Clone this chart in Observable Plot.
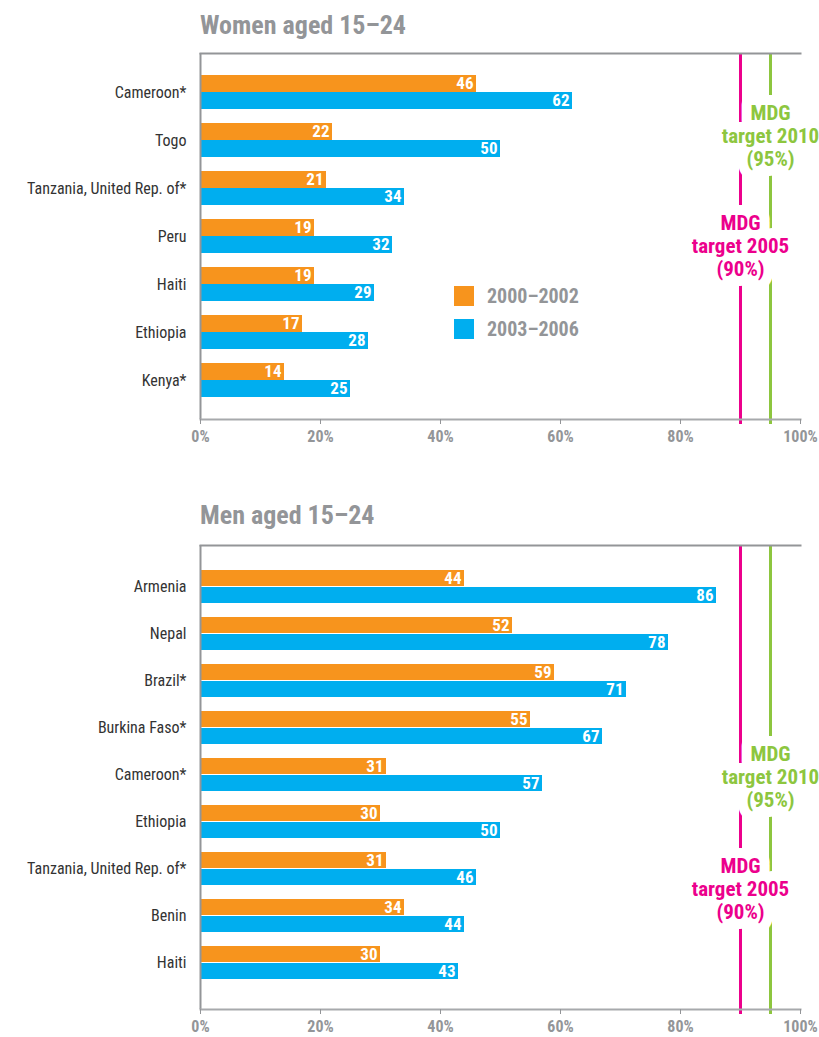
<!DOCTYPE html>
<html>
<head>
<meta charset="utf-8">
<script src="https://cdn.jsdelivr.net/npm/d3@7"></script>
<script src="https://cdn.jsdelivr.net/npm/@observablehq/plot@0.6"></script>
<style>
  html, body { margin: 0; padding: 0; background: #fff; }
  body { width: 819px; height: 1037px; overflow: hidden; }
  #wrap { position: relative; width: 819px; height: 1037px; font-family: "Liberation Sans Narrow", "Roboto Condensed", "DejaVu Sans Condensed", Roboto, sans-serif; }
  .title { position: absolute; left: 200px; font-size: 26px; font-weight: bold; color: #939598; line-height: 26px; white-space: nowrap; z-index: 2; }
  .legend { position: absolute; left: 454px; font-size: 20px; font-weight: bold; color: #939598; z-index: 2; }
  .legend .row { display: flex; align-items: center; height: 20px; margin-bottom: 13px; }
  .legend .sw { width: 20px; height: 20px; margin-right: 13px; }
  #p1, #p2 { position: absolute; left: 0; z-index: 1; }
  #p1 { top: 0; }
  #p2 { top: 460px; }
  svg { overflow: visible; }
</style>
</head>
<body>
<div id="wrap">
  <div id="p1"></div>
  <div id="p2"></div>
  <div class="title" id="t1" style="top:12px">Women aged 15–24</div>
  <div class="title" id="t2" style="top:502px">Men aged 15–24</div>
  <div class="legend" id="legend" style="top:286px"></div>
</div>
<script>
// ---- Data ----
const periods = ["2000–2002", "2003–2006"];
const periodColors = ["#F7941D", "#00AEEF"];

const womenCountries = ["Cameroon*", "Togo", "Tanzania, United Rep. of*", "Peru", "Haiti", "Ethiopia", "Kenya*"];
const women2000 = [46, 22, 21, 19, 19, 17, 14];
const women2003 = [62, 50, 34, 32, 29, 28, 25];

const menCountries = ["Armenia", "Nepal", "Brazil*", "Burkina Faso*", "Cameroon*", "Ethiopia", "Tanzania, United Rep. of*", "Benin", "Haiti"];
const men2000 = [44, 52, 59, 55, 31, 30, 31, 34, 30];
const men2003 = [86, 78, 71, 67, 57, 50, 46, 44, 43];

const targetValues = [90, 95];
const targetLabels = ["MDG\ntarget 2005\n(90%)", "MDG\ntarget 2010\n(95%)"];
const targetColors = ["#EC008C", "#8DC63F"];

const xTicks = [0, 20, 40, 60, 80, 100];

const FONT = '"Liberation Sans Narrow", "Roboto Condensed", "DejaVu Sans Condensed", Roboto, sans-serif';
const GRAY = "#939598";

function panel(countries, v1, v2, opts) {
  const rows = countries.map((c, i) => ({country: c, a: v1[i], b: v2[i]}));
  const targets = targetValues.map((v, i) => ({value: v, label: targetLabels[i], color: targetColors[i]}));
  const textOpts = {x: "value", text: "label", frameAnchor: "top", fontWeight: "bold", fontSize: 21, lineHeight: 1.1, lineAnchor: "middle"};
  // white halo first (knocks out the target lines), then coloured text on top
  const haloMarks = targets.map((t, i) =>
    Plot.text([t], {...textOpts, dy: opts.labelDy[i], fill: "white", stroke: "white", strokeWidth: 20, strokeLinejoin: "round"})
  );
  const labelMarks = targets.map((t, i) =>
    Plot.text([t], {...textOpts, dy: opts.labelDy[i], fill: t.color})
  );
  return Plot.plot({
    width: 819,
    height: opts.height,
    marginLeft: 200,
    marginRight: 19,
    marginTop: opts.marginTop,
    marginBottom: opts.marginBottom,
    style: {fontFamily: FONT, background: "transparent", overflow: "visible"},
    x: {domain: [0, 100], axis: null},
    y: {domain: countries, axis: null, paddingInner: opts.pi, paddingOuter: opts.po, align: opts.align},
    marks: [
      // target lines
      Plot.ruleX(targets, {x: "value", stroke: "color", strokeWidth: 3, insetBottom: -5}),
      // bars
      Plot.barX(rows, {x: "a", y: "country", fill: periodColors[0], insetBottom: 17}),
      Plot.barX(rows, {x: "b", y: "country", fill: periodColors[1], insetTop: 17}),
      // value labels
      Plot.text(rows, {x: "a", y: "country", text: d => String(d.a), dy: -8.5, dx: -3, textAnchor: "end", fill: "white", fontWeight: "bold", fontSize: 17}),
      Plot.text(rows, {x: "b", y: "country", text: d => String(d.b), dy: 8.5, dx: -3, textAnchor: "end", fill: "white", fontWeight: "bold", fontSize: 17}),
      // frame: top and left
      Plot.frame({anchor: "top", stroke: GRAY, strokeWidth: 2}),
      Plot.ruleX([0], {stroke: GRAY, strokeWidth: 2}),
      // bottom axis line
      Plot.frame({anchor: "bottom", stroke: "#a7a9ac", strokeWidth: 2}),
      Plot.axisX({ticks: xTicks, tickSize: 5, tickPadding: 6, stroke: GRAY, tickFormat: d => d + "%", fill: GRAY, fontWeight: "bold", fontSize: 16, anchor: "bottom", label: null}),
      // category labels
      Plot.axisY({tickSize: 0, tickPadding: 14, fill: "#333", fontSize: 16, label: null}),
      // target labels
      ...haloMarks,
      ...labelMarks
    ]
  });
}

const p1 = panel(womenCountries, women2000, women2003, {
  height: 460, marginTop: 53, marginBottom: 41, pi: 0.2917, po: 0.458, align: 0.5, labelDy: [192, 82]
});
const p2 = panel(menCountries, men2000, men2003, {
  height: 577, marginTop: 85, marginBottom: 28, pi: 0.288, po: 0.5026, align: 0.46, labelDy: [343, 231]
});
document.getElementById("p1").appendChild(p1);
document.getElementById("p2").appendChild(p2);

// legend
const lg = document.getElementById("legend");
periods.forEach((p, i) => {
  const row = document.createElement("div");
  row.className = "row";
  const sw = document.createElement("div");
  sw.className = "sw";
  sw.style.background = periodColors[i];
  const tx = document.createElement("span");
  tx.textContent = p;
  row.appendChild(sw); row.appendChild(tx);
  lg.appendChild(row);
});
</script>
</body>
</html>
